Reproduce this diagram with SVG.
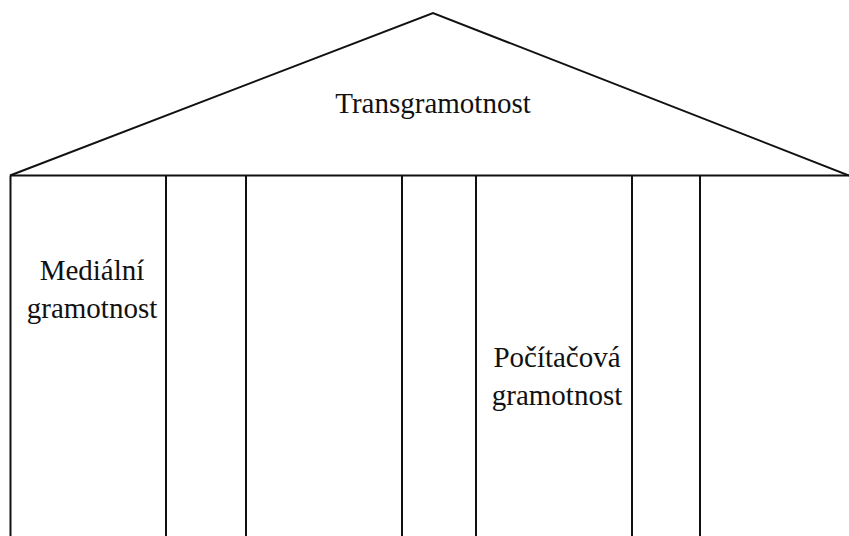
<svg xmlns="http://www.w3.org/2000/svg" width="849" height="536" viewBox="0 0 849 536">
<style>
.ln{stroke:#111;stroke-width:2;fill:none}
.t{font-family:"Liberation Serif","Times New Roman",serif;font-size:29px;fill:#111;text-anchor:middle}
</style>
<rect width="849" height="536" fill="#fff"/>
<g id="connectors">
<polyline class="ln" points="10,175.5 433,13 849,175.5"/>
<line class="ln" x1="10" y1="175.5" x2="849" y2="175.5"/>
<line class="ln" x1="10.5" y1="175.5" x2="10.5" y2="536"/>
<line class="ln" x1="166" y1="175.5" x2="166" y2="536"/>
<line class="ln" x1="246" y1="175.5" x2="246" y2="536"/>
<line class="ln" x1="402" y1="175.5" x2="402" y2="536"/>
<line class="ln" x1="476" y1="175.5" x2="476" y2="536"/>
<line class="ln" x1="632" y1="175.5" x2="632" y2="536"/>
<line class="ln" x1="700" y1="175.5" x2="700" y2="536"/>
</g>
<g id="roof"><text class="t" x="433" y="113">Transgramotnost</text></g>
<g id="medialni"><text class="t" x="92" y="280">Mediální</text><text class="t" x="92" y="318">gramotnost</text></g>
<g id="pocitacova"><text class="t" x="557" y="367">Počítačová</text><text class="t" x="557" y="405">gramotnost</text></g>
</svg>
